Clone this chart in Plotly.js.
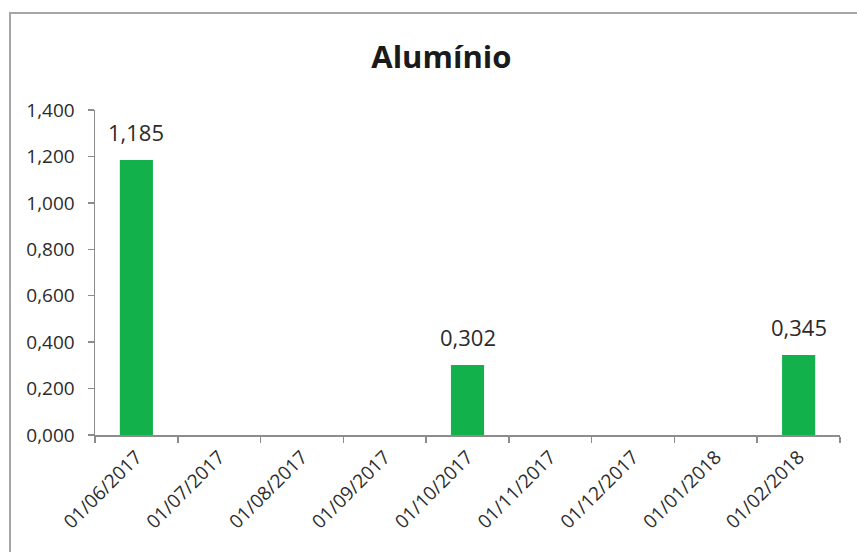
<!DOCTYPE html>
<html>
<head>
<meta charset="utf-8">
<script src="https://cdn.plot.ly/plotly-3.0.1.min.js"></script>
<style>
  html, body { margin: 0; padding: 0; background: #fff; }
  #chart { width: 857px; height: 552px; position: relative; }
  #frame {
    position: absolute; left: 9px; top: 12px; width: 900px; height: 600px;
    border-left: 2px solid #a6a6a6; border-top: 2px solid #a6a6a6;
    pointer-events: none; box-sizing: border-box;
  }
</style>
</head>
<body>
<div id="chart"></div>
<div id="frame"></div>
<script>
// Monthly aluminium readings (blank months have no measurement)
const dates = ['01/06/2017', '01/07/2017', '01/08/2017', '01/09/2017', '01/10/2017',
               '01/11/2017', '01/12/2017', '01/01/2018', '01/02/2018'];
const aluminio = [1.185, null, null, null, 0.302, null, null, null, 0.345];
const yTicks = [0, 0.2, 0.4, 0.6, 0.8, 1.0, 1.2, 1.4];

const textColor = '#2b2b2b';
const axisColor = '#8c8c8c';
const fontFamily = '"Open Sans", "Noto Sans", sans-serif';

// Portuguese number format: comma as decimal mark, three decimals
const fmt = v => v.toFixed(3).replace('.', ',');

const trace = {
  type: 'bar',
  x: dates,
  y: aluminio,
  marker: { color: '#13b14c' },
  hoverinfo: 'x+y'
};

// Value labels sitting above each measured bar
const valueLabels = [];
dates.forEach((d, i) => {
  if (aluminio[i] === null) return;
  valueLabels.push({
    x: d, y: aluminio[i], xref: 'x', yref: 'y',
    text: fmt(aluminio[i]),
    showarrow: false,
    xanchor: 'center', yanchor: 'bottom',
    yshift: 11,
    font: { family: fontFamily, size: 22, color: textColor }
  });
});

const layout = {
  width: 857,
  height: 552,
  margin: { l: 95, r: 17, t: 110, b: 117 },
  paper_bgcolor: '#ffffff',
  plot_bgcolor: '#ffffff',
  separators: ', ',
  showlegend: false,
  bargap: 0.6,
  font: { family: fontFamily, color: textColor },
  title: {
    text: '<b>Alumínio</b>',
    font: { family: fontFamily, size: 31, color: '#1a1a1a' },
    x: 0.515, xref: 'container', xanchor: 'center',
    y: 0.896, yref: 'container', yanchor: 'middle'
  },
  annotations: valueLabels,
  xaxis: {
    type: 'category',
    tickson: 'boundaries',
    ticks: 'outside', ticklen: 6, tickcolor: axisColor, tickwidth: 1.5,
    showline: true, linecolor: axisColor, linewidth: 1.5,
    showgrid: false, zeroline: false,
    tickangle: -45,
    ticklabelstandoff: 2,
    tickfont: { family: fontFamily, size: 19, color: textColor }
  },
  yaxis: {
    range: [0, 1.4],
    tickvals: yTicks,
    tickformat: '.3f',
    ticks: 'outside', ticklen: 6, tickcolor: axisColor, tickwidth: 1.5,
    showline: true, linecolor: axisColor, linewidth: 1.5,
    showgrid: false, zeroline: false,
    ticklabelstandoff: 9,
    tickfont: { family: fontFamily, size: 19, color: textColor }
  }
};

Plotly.newPlot('chart', [trace], layout, { displayModeBar: false, staticPlot: true });
</script>
</body>
</html>
